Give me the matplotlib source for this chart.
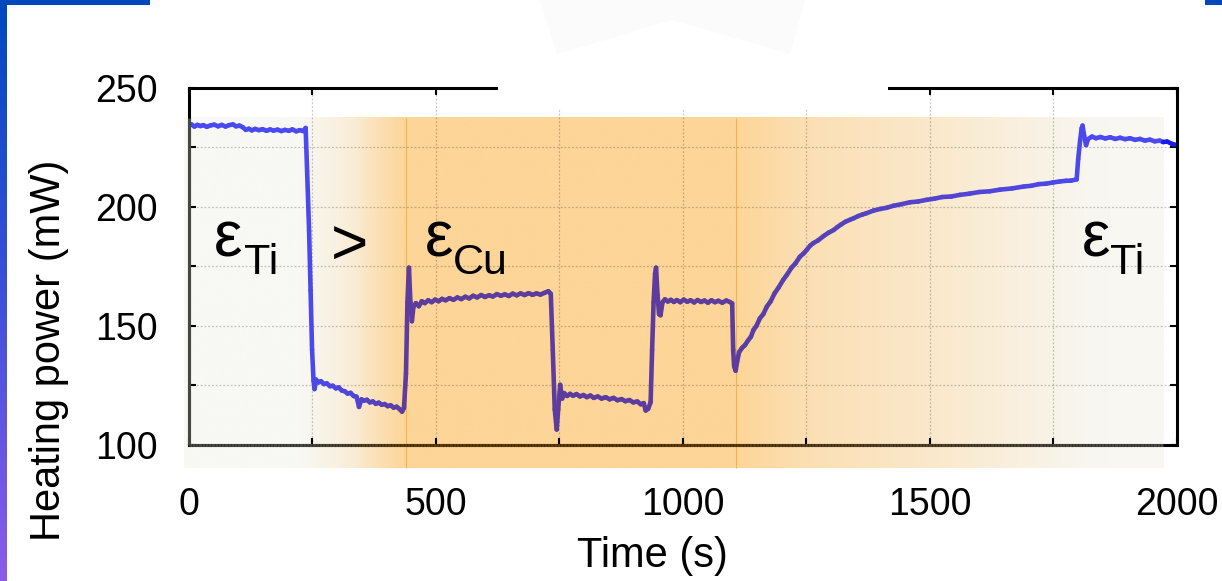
import numpy as np
import matplotlib.pyplot as plt
from matplotlib.collections import LineCollection
from matplotlib.patches import Rectangle, Polygon
from matplotlib.ticker import MultipleLocator, FuncFormatter

plt.rcParams['font.family'] = ['Liberation Sans', 'DejaVu Sans']

# heating power trace (time in s, power in mW)
time_s = [
    0, 6, 12, 18, 24, 30, 37, 45, 52, 60, 67, 75, 82, 90, 96, 103, 110, 116, 122, 128, 135, 142,
    150, 158, 165, 172, 180, 188, 195, 203, 210, 218, 225, 232, 237,
    240, 244, 247, 250, 253, 255, 258, 263, 268, 274, 280, 286, 292, 298, 304, 310, 316, 322,
    328, 334, 340, 345, 350, 355, 361, 367, 373, 379, 385, 391, 397, 403, 409, 415, 421, 427,
    432, 436,
    440, 443, 446, 449, 452, 455, 460, 466, 472, 478, 485, 492, 499, 506, 513, 520, 528, 536,
    544, 552, 560, 568, 576, 584, 592, 600, 608, 616, 624, 632, 640, 648, 656, 664, 672, 680,
    688, 696, 704, 712, 720, 728, 733,
    737, 741, 745, 748, 752, 756, 760, 766, 772, 778, 785, 792, 799, 806, 813, 820, 828, 836,
    844, 852, 860, 868, 876, 884, 892, 900, 908, 915, 921, 925, 930, 935,
    938, 941, 944, 946, 949, 952, 955, 959, 964, 970, 976, 982, 988, 995, 1002, 1009, 1016,
    1023, 1030, 1037, 1044, 1051, 1058, 1065, 1072, 1080, 1088, 1095, 1100,
    1102, 1104, 1107, 1110, 1114, 1120, 1126, 1132, 1138, 1143, 1149, 1156, 1163, 1170, 1178,
    1186, 1194, 1203, 1211, 1220, 1228, 1237, 1244, 1251, 1258, 1264, 1274, 1285, 1295, 1305,
    1313, 1320, 1329, 1338, 1346, 1355, 1363, 1372, 1386, 1400, 1413, 1426, 1443, 1460, 1476,
    1493, 1509, 1525, 1543, 1561, 1580, 1600, 1621, 1642, 1666, 1690, 1705, 1720, 1735, 1749,
    1762, 1775, 1786, 1797,
    1800, 1804, 1807, 1809, 1812, 1816, 1820, 1828, 1836, 1845, 1855, 1865, 1875, 1885, 1895,
    1905, 1915, 1925, 1935, 1945, 1955, 1965, 1972, 1980, 1990, 2000,
]
power_mw = [
    234.2, 234.7, 233.8, 234.5, 234.0, 234.4, 233.7, 234.3, 234.6, 233.9, 234.5, 233.8, 234.4,
    234.7, 233.9, 234.2, 233.5, 232.4, 232.9, 232.2, 232.8, 232.3, 232.7, 232.0, 232.6, 232.1,
    232.5, 231.9, 232.4, 232.0, 232.6, 231.8, 232.3, 231.9, 233.2,
    215.0, 190.0, 165.0, 140.0, 127.0, 123.5, 127.5, 126.3, 126.8, 125.6, 125.9, 124.7, 124.9,
    123.8, 124.2, 122.9, 122.6, 121.6, 121.9, 120.6, 120.3, 116.0, 119.2, 118.6, 119.0, 117.9,
    118.3, 117.3, 117.8, 116.9, 117.2, 116.3, 116.7, 115.7, 116.1, 115.1, 114.0, 115.6,
    130.0, 160.0, 174.5, 160.0, 152.0, 158.0, 159.6, 158.3, 160.4, 159.6, 160.8, 160.0, 161.1,
    160.4, 161.4, 160.8, 161.7, 161.0, 162.0, 161.3, 162.3, 161.6, 162.7, 162.0, 163.0, 162.2,
    162.9, 162.4, 163.4, 162.7, 163.3, 162.6, 163.6, 162.9, 163.7, 163.0, 163.8, 163.1, 163.7,
    163.2, 163.9, 164.6, 163.5,
    140.0, 115.0, 106.5, 115.0, 125.3, 119.5, 121.8, 120.6, 121.5, 120.7, 121.4, 120.4, 121.0,
    120.1, 120.8, 119.8, 120.4, 119.5, 120.1, 119.2, 119.8, 118.8, 119.3, 118.4, 118.9, 117.9,
    118.3, 117.1, 117.6, 114.5, 115.2, 118.0,
    140.0, 160.0, 172.0, 174.5, 163.0, 155.0, 154.5, 160.0, 161.2, 160.3, 161.0, 160.1, 160.9,
    160.0, 161.1, 160.2, 160.8, 159.9, 160.9, 160.1, 160.7, 159.8, 160.8, 160.0, 160.6, 159.8,
    160.7, 160.1, 159.5,
    140.0, 133.0, 131.2, 135.0, 139.0, 140.8, 142.0, 143.9, 145.5, 148.3, 150.0, 153.2, 155.0,
    158.1, 160.4, 163.8, 166.2, 169.3, 171.6, 174.5, 176.3, 179.1, 180.4, 182.0, 183.8, 184.8,
    186.0, 187.8, 189.2, 190.3, 191.6, 192.6, 193.8, 194.6, 195.3, 196.2, 196.8, 197.4, 198.5,
    199.2, 199.7, 200.5, 201.2, 202.0, 202.3, 203.0, 203.5, 204.2, 204.4, 205.1, 205.6, 206.3,
    206.6, 207.3, 207.8, 208.6, 208.9, 209.6, 209.8, 210.3, 210.7, 211.0, 211.1, 211.6,
    220.0, 228.0, 233.0, 234.2, 230.0, 226.0, 228.5, 229.6, 228.9, 229.4, 228.8, 229.3, 228.6,
    229.1, 228.5, 228.9, 228.2, 228.6, 227.9, 228.3, 227.6, 227.9, 227.3, 227.5, 226.5, 226.0,
]

x_ticks_every = 250
y_ticks_every = 25

# shaded band behind the trace: weight 0 = pale, 1 = orange
band_x = [-9, 226, 327, 387, 438, 1106, 1250, 1500, 1700, 1824, 1972]
band_w = [0, 0, 0.3, 0.7, 1, 1, 0.7, 0.45, 0.2, 0.04, 0]
band_y = (90.3, 237.4)
pale = np.array([248, 248, 244]) / 255
orange = np.array([253, 213, 152]) / 255


def mix(c0, c1, w):
    w = np.asarray(w)[..., None]
    return np.asarray(c0) * (1 - w) + np.asarray(c1) * w


fig = plt.figure(figsize=(12.22, 5.81), dpi=100)
ax = fig.add_axes([188.5 / 1222, 1 - 445 / 581, 988.5 / 1222, 357 / 581])

# background band
bx = np.linspace(band_x[0], band_x[-1], 900)
band_rgb = mix(pale, orange, np.interp(bx, band_x, band_w))
ax.imshow(band_rgb[None, :, :], extent=[band_x[0], band_x[-1], band_y[0], band_y[1]],
          aspect='auto', interpolation='bilinear', zorder=0.3, clip_on=False)
ax.vlines([440, 1108], band_y[0], band_y[1], color='#f6b24a', lw=0.8, zorder=1.2, clip_on=False)

# trace, tinted by the band underneath
pts = np.column_stack([time_s, power_mw])
segs = np.stack([pts[:-1], pts[1:]], axis=1)
mid = (pts[:-1, 0] + pts[1:, 0]) / 2
w = np.interp(mid, band_x, band_w)
seg_col = mix(np.array([74, 74, 242]) / 255, np.array([92, 61, 158]) / 255, w)
seg_col[mid > band_x[-1]] = np.array([25, 25, 235]) / 255
lc = LineCollection(segs, colors=seg_col, linewidths=3.3, capstyle='round', joinstyle='round', zorder=2)
ax.add_collection(lc)

ax.set_xlim(0, 2000)
ax.set_ylim(100, 250)
ax.xaxis.set_major_locator(MultipleLocator(x_ticks_every))
ax.yaxis.set_major_locator(MultipleLocator(y_ticks_every))
ax.xaxis.set_major_formatter(FuncFormatter(lambda v, p: f'{v:.0f}' if v % 500 == 0 else ''))
ax.yaxis.set_major_formatter(FuncFormatter(lambda v, p: f'{v:.0f}' if v % 50 == 0 else ''))
ax.tick_params(direction='in', top=True, right=True, length=5, width=1.5, labelsize=27, colors='k')
ax.tick_params(axis='y', pad=22)
ax.tick_params(axis='x', pad=30.5)
ax.grid(True, color='k', alpha=0.22, linestyle=(0, (1.5, 1.5)), linewidth=0.9)
for s in ax.spines.values():
    s.set_linewidth(2.2)

# spine parts lying under the band
spine_dark_pale = np.array([70, 70, 66]) / 255
spine_dark_orange = np.array([92, 58, 12]) / 255
sx = np.linspace(0, band_x[-1], 300)
spts = np.column_stack([sx, np.full_like(sx, 100.0)])
ssegs = np.stack([spts[:-1], spts[1:]], axis=1)
scol = mix(spine_dark_pale, spine_dark_orange, np.interp((sx[:-1] + sx[1:]) / 2, band_x, band_w))
ax.add_collection(LineCollection(ssegs, colors=scol, linewidths=2.2, capstyle='butt',
                                 zorder=2.6, clip_on=False))
ax.plot([0, 0], [100, band_y[1]], color=spine_dark_pale, lw=2.2, solid_capstyle='butt',
        zorder=2.6, clip_on=False)

for tk, v in zip(ax.xaxis.get_major_ticks(), ax.xaxis.get_majorticklocs()):
    if 0 <= v <= band_x[-1]:
        tk.tick1line.set_color(mix(spine_dark_pale, spine_dark_orange, np.interp(v, band_x, band_w)))
for tk, v in zip(ax.yaxis.get_major_ticks(), ax.yaxis.get_majorticklocs()):
    if v <= band_y[1]:
        tk.tick1line.set_color(spine_dark_pale)

ax.set_xlabel('Time (s)', fontsize=30)
ax.xaxis.set_label_coords(0.469, -0.255)
ax.set_ylabel('Heating power (mW)', fontsize=30)
ax.yaxis.set_label_coords(-0.121, 0.266)

# emissivity annotations
big, small = 46, 31
ax.text(52, 179.0, 'ε', fontsize=big, ha='left', va='baseline', zorder=4)
ax.text(112, 171.8, 'Ti', fontsize=small, ha='left', va='baseline', zorder=4)
ax.text(288, 175.6, '>', fontsize=big, ha='left', va='baseline', zorder=4)
ax.text(478, 179.0, 'ε', fontsize=big, ha='left', va='baseline', zorder=4)
ax.text(535, 171.8, 'Cu', fontsize=small, ha='left', va='baseline', zorder=4)
ax.text(1807, 179.0, 'ε', fontsize=big, ha='left', va='baseline', zorder=4)
ax.text(1864, 171.8, 'Ti', fontsize=small, ha='left', va='baseline', zorder=4)

# slide furniture around the chart
W, H = 1222, 581
fig.patches.append(Rectangle((498 / W, 1 - 108 / H), 390 / W, 108 / H, transform=fig.transFigure,
                             facecolor='white', edgecolor='none', zorder=5))
fig.patches.append(Polygon([(540 / W, 1), (805 / W, 1), (790 / W, 1 - 54 / H), (672 / W, 1 - 20 / H),
                            (557 / W, 1 - 54 / H)], closed=True, transform=fig.transFigure,
                           facecolor='#fbfbfb', edgecolor='none', zorder=6))
fig.patches.append(Rectangle((0, 1 - 5 / H), 150 / W, 5 / H, transform=fig.transFigure,
                             facecolor='#0048bc', edgecolor='none', zorder=6))
fig.patches.append(Rectangle((1205 / W, 1 - 5 / H), 17 / W, 5 / H, transform=fig.transFigure,
                             facecolor='#0048bc', edgecolor='none', zorder=6))
strip = fig.add_axes([0, 0, 7 / W, 1])
gy = np.linspace(0, 1, 200)
strip_rgb = np.stack([np.interp(gy, [0, 0.5, 1], [0, 60, 140]),
                      np.interp(gy, [0, 0.5, 1], [72, 80, 92]),
                      np.interp(gy, [0, 0.5, 1], [190, 215, 232])], axis=1) / 255
strip.imshow(strip_rgb[:, None, :], aspect='auto', extent=[0, 1, 0, 1])
strip.axis('off')

fig.savefig('out.png', dpi=100, facecolor='white')
